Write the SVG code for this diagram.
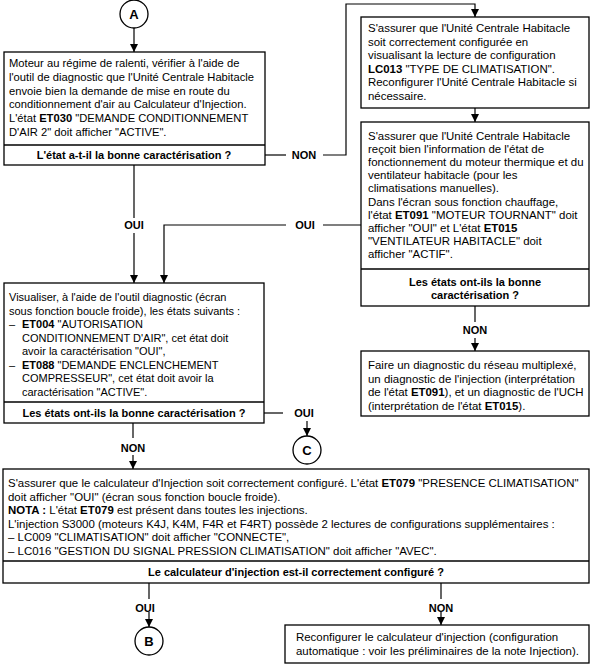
<svg xmlns="http://www.w3.org/2000/svg" width="591" height="666" viewBox="0 0 591 666">
<style>
text{font-family:"Liberation Sans",Arial,sans-serif;font-size:11px;fill:#000}
.w{font-size:11.45px}
.m{font-size:11.2px}
.b{font-weight:bold}
.c{text-anchor:middle}
.box{fill:#fff;stroke:#000;stroke-width:1.3}
.div{stroke:#000;stroke-width:1.3}
.ln{fill:none;stroke:#000;stroke-width:1.2}
.circ{fill:#fff;stroke:#000;stroke-width:1.3}
.lt{font-weight:bold;font-size:13px;text-anchor:middle}
</style>
<defs>
<marker id="ah" viewBox="0 0 10 10" refX="10" refY="5" markerWidth="8" markerHeight="8" markerUnits="userSpaceOnUse" orient="auto"><path d="M0,0 L10,5 L0,10 z" fill="#000"/></marker>
</defs>
<rect width="591" height="666" fill="#fff"/>
<g id="connectors">
<line class="ln" x1="134" y1="28" x2="134" y2="52" marker-end="url(#ah)"/>
<polyline class="ln" points="265,155 286,155"/>
<text class="b c" x="304" y="159">NON</text>
<polyline class="ln" points="323,155 346,155 346,4 475,4 475,17" marker-end="url(#ah)"/>
<line class="ln" x1="475" y1="108" x2="475" y2="122" marker-end="url(#ah)"/>
<polyline class="ln" points="361,225 323,225"/>
<text class="b c" x="305" y="229">OUI</text>
<polyline class="ln" points="286,225 164,225 164,283" marker-end="url(#ah)"/>
<line class="ln" x1="134" y1="165" x2="134" y2="218"/>
<text class="b c" x="134" y="229">OUI</text>
<line class="ln" x1="134" y1="233" x2="134" y2="283" marker-end="url(#ah)"/>
<line class="ln" x1="475" y1="306" x2="475" y2="322"/>
<text class="b c" x="475" y="334">NON</text>
<line class="ln" x1="475" y1="338" x2="475" y2="351" marker-end="url(#ah)"/>
<line class="ln" x1="264" y1="413" x2="283" y2="413"/>
<text class="b c" x="304" y="417">OUI</text>
<line class="ln" x1="307" y1="421" x2="307" y2="436" marker-end="url(#ah)"/>
<line class="ln" x1="133" y1="423" x2="133" y2="438"/>
<text class="b c" x="133" y="452">NON</text>
<line class="ln" x1="133" y1="455" x2="133" y2="469" marker-end="url(#ah)"/>
<line class="ln" x1="149" y1="583" x2="149" y2="599"/>
<text class="b c" x="145" y="612">OUI</text>
<line class="ln" x1="149" y1="612" x2="149" y2="627" marker-end="url(#ah)"/>
<line class="ln" x1="441" y1="583" x2="441" y2="599"/>
<text class="b c" x="441" y="612">NON</text>
<line class="ln" x1="441" y1="612" x2="441" y2="625" marker-end="url(#ah)"/>
</g>
<g id="circleA">
<circle class="circ" cx="134" cy="14" r="14"/>
<text class="lt" x="134" y="19">A</text>
</g>
<g id="box1">
<rect class="box" x="4" y="52" width="261" height="113"/>
<line class="div" x1="4" y1="145" x2="265" y2="145"/>
<text class="m" x="9" y="67">Moteur au régime de ralenti, vérifier à l'aide de</text>
<text class="m" x="9" y="80.8">l'outil de diagnostic que l'Unité Centrale Habitacle</text>
<text class="m" x="9" y="94.6">envoie bien la demande de mise en route du</text>
<text class="m" x="9" y="108.4">conditionnement d'air au Calculateur d'Injection.</text>
<text class="m" x="9" y="122.2">L'état <tspan class="b">ET030</tspan> "DEMANDE CONDITIONNEMENT</text>
<text class="m" x="9" y="136">D'AIR 2" doit afficher "ACTIVE".</text>
<text class="b c" x="134" y="159">L'état a-t-il la bonne caractérisation ?</text>
</g>
<g id="box2">
<rect class="box" x="361" y="17" width="228" height="91"/>
<text class="w" x="368" y="32">S'assurer que l'Unité Centrale Habitacle</text>
<text class="w" x="368" y="45.5">soit correctement configurée en</text>
<text class="w" x="368" y="59">visualisant la lecture de configuration</text>
<text class="w" x="368" y="72.5"><tspan class="b">LC013</tspan> "TYPE DE CLIMATISATION".</text>
<text class="w" x="368" y="86">Reconfigurer l'Unité Centrale Habitacle si</text>
<text class="w" x="368" y="99.5">nécessaire.</text>
</g>
<g id="box3">
<rect class="box" x="361" y="122" width="228" height="184"/>
<line class="div" x1="361" y1="269" x2="589" y2="269"/>
<text class="w" x="368" y="140">S'assurer que l'Unité Centrale Habitacle</text>
<text class="w" x="368" y="153.1">reçoit bien l'information de l'état de</text>
<text class="w" x="368" y="166.2">fonctionnement du moteur thermique et du</text>
<text class="w" x="368" y="179.3">ventilateur habitacle (pour les</text>
<text class="w" x="368" y="192.4">climatisations manuelles).</text>
<text class="w" x="368" y="205.5">Dans l'écran sous fonction chauffage,</text>
<text class="w" x="368" y="218.6">l'état <tspan class="b">ET091</tspan> "MOTEUR TOURNANT" doit</text>
<text class="w" x="368" y="231.7">afficher "OUI" et L'état <tspan class="b">ET015</tspan></text>
<text class="w" x="368" y="244.8">"VENTILATEUR HABITACLE" doit</text>
<text class="w" x="368" y="257.9">afficher "ACTIF".</text>
<text class="b c" x="475" y="286">Les états ont-ils la bonne</text>
<text class="b c" x="475" y="298.5">caractérisation ?</text>
</g>
<g id="box4">
<rect class="box" x="4" y="283" width="260" height="140"/>
<line class="div" x1="4" y1="402" x2="264" y2="402"/>
<text x="9" y="301">Visualiser, à l'aide de l'outil diagnostic (écran</text>
<text x="9" y="314.5">sous fonction boucle froide), les états suivants :</text>
<text x="9" y="328">–</text>
<text x="22" y="328"><tspan class="b">ET004</tspan> "AUTORISATION</text>
<text x="22" y="341.5">CONDITIONNEMENT D'AIR", cet état doit</text>
<text x="22" y="355">avoir la caractérisation "OUI",</text>
<text x="9" y="368.5">–</text>
<text x="22" y="368.5"><tspan class="b">ET088</tspan> "DEMANDE ENCLENCHEMENT</text>
<text x="22" y="382">COMPRESSEUR", cet état doit avoir la</text>
<text x="22" y="395.5">caractérisation "ACTIVE".</text>
<text class="b c" x="134" y="417">Les états ont-ils la bonne caractérisation ?</text>
</g>
<g id="box6">
<rect class="box" x="361" y="351" width="228" height="65"/>
<text class="w" x="368" y="369">Faire un diagnostic du réseau multiplexé,</text>
<text class="w" x="368" y="382.5">un diagnostic de l'injection (interprétation</text>
<text class="w" x="368" y="396">de l'état <tspan class="b">ET091</tspan>), et un diagnostic de l'UCH</text>
<text class="w" x="368" y="409.5">(interprétation de l'état <tspan class="b">ET015</tspan>).</text>
</g>
<g id="circleC">
<circle class="circ" cx="307" cy="450" r="14"/>
<text class="lt" x="307" y="455">C</text>
</g>
<g id="box5">
<rect class="box" x="3" y="469" width="586" height="114"/>
<line class="div" x1="3" y1="561" x2="589" y2="561"/>
<text class="w" x="8" y="487">S'assurer que le calculateur d'Injection soit correctement configuré. L'état <tspan class="b">ET079</tspan> "PRESENCE CLIMATISATION"</text>
<text class="w" x="8" y="500.5">doit afficher "OUI" (écran sous fonction boucle froide).</text>
<text class="w" x="8" y="514"><tspan class="b">NOTA :</tspan> L'état <tspan class="b">ET079</tspan> est présent dans toutes les injections.</text>
<text class="w" x="8" y="527.5">L'injection S3000 (moteurs K4J, K4M, F4R et F4RT) possède 2 lectures de configurations supplémentaires :</text>
<text class="w" x="8" y="541">– LC009 "CLIMATISATION" doit afficher "CONNECTE",</text>
<text class="w" x="8" y="554.5">– LC016 "GESTION DU SIGNAL PRESSION CLIMATISATION" doit afficher "AVEC".</text>
<text class="b c" x="296" y="576">Le calculateur d'injection est-il correctement configuré ?</text>
</g>
<g id="circleB">
<circle class="circ" cx="149" cy="641" r="14"/>
<text class="lt" x="149" y="646">B</text>
</g>
<g id="box7">
<rect class="box" x="285" y="625" width="304" height="38"/>
<text class="w" x="296" y="641">Reconfigurer le calculateur d'injection (configuration</text>
<text class="w" x="296" y="654.5">automatique : voir les préliminaires de la note Injection).</text>
</g>
</svg>
